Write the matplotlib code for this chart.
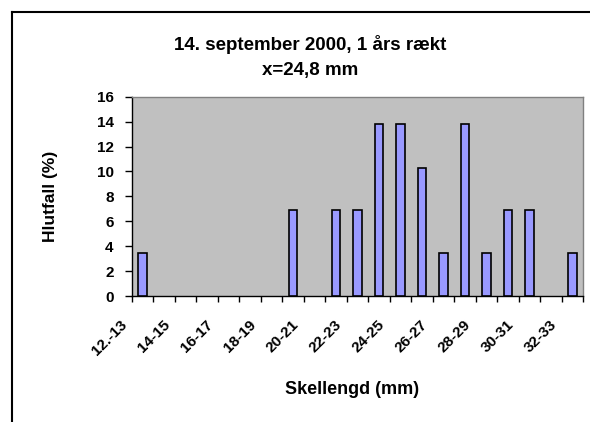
import matplotlib
matplotlib.use("Agg")
import matplotlib.pyplot as plt
from matplotlib.transforms import ScaledTranslation
from matplotlib.lines import Line2D
import numpy as np

# ---- data ----
categories = ["12.-13", "13-14", "14-15", "15-16", "16-17", "17-18", "18-19",
              "19-20", "20-21", "21-22", "22-23", "23-24", "24-25", "25-26",
              "26-27", "27-28", "28-29", "29-30", "30-31", "31-32", "32-33"]
values = [3.45, 0, 0, 0, 0, 0, 0,
          6.9, 0, 6.9, 6.9, 13.8, 13.8, 10.3,
          3.45, 13.8, 3.45, 6.9, 6.9, 0, 3.45]
y_ticks = [0, 2, 4, 6, 8, 10, 12, 14, 16]
title_line1 = "14. september 2000, 1 års rækt"
title_line2 = "x=24,8 mm"
x_label = "Skellengd (mm)"
y_label = "Hlutfall (%)"

plt.rcParams['font.family'] = ['Liberation Sans', 'DejaVu Sans']
plt.rcParams['font.weight'] = 'bold'

W, H, DPI = 590, 422, 100
fig = plt.figure(figsize=(W / DPI, H / DPI), dpi=DPI)
fig.patch.set_facecolor('white')

def fx(px):
    return px / W

def fy(py):
    return 1 - py / H

# chart border (only left and top visible)
fig.add_artist(Line2D([fx(12), fx(12)], [fy(12), 0], color='black', lw=1.5,
                      transform=fig.transFigure))
fig.add_artist(Line2D([fx(12), 1], [fy(12), fy(12)], color='black', lw=1.5,
                      transform=fig.transFigure))

left, right, top, bottom = 131.7, 583.3, 96.7, 296
ax = fig.add_axes([fx(left), fy(bottom), fx(right) - fx(left), fy(top) - fy(bottom)])
ax.set_facecolor('#C0C0C0')

x = np.arange(len(categories))
edge_widths = [1.2 if v > 0 else 0 for v in values]
ax.bar(x, values, width=0.4, color='#9999FF', edgecolor='black',
       linewidth=edge_widths, zorder=3)

ax.set_xlim(-0.5, len(categories) - 0.5)
ax.set_ylim(0, 16)
ax.set_yticks(y_ticks)
ax.set_yticklabels([str(v) for v in y_ticks], fontsize=11, fontweight='bold')
ax.set_xticks(np.arange(len(categories) + 1) - 0.5)
ax.set_xticklabels([])

for s in ['top', 'right']:
    ax.spines[s].set_color('#808080')
    ax.spines[s].set_linewidth(1.0)
for s in ['left', 'bottom']:
    ax.spines[s].set_color('black')
    ax.spines[s].set_linewidth(1.0)

ax.tick_params(axis='y', direction='out', length=5, width=1, pad=8, colors='black')
ax.tick_params(axis='x', direction='out', length=4, width=1, colors='black')

offset = ScaledTranslation(-18 / DPI, -27 / DPI, fig.dpi_scale_trans)
for k in range(0, len(categories), 2):
    ax.text(x[k], 0, categories[k], transform=ax.get_xaxis_transform() + offset,
            rotation=45, rotation_mode='anchor', ha='right', va='center',
            fontsize=11, fontweight='bold')

fig.text(fx(310.5), fy(44.5), title_line1, ha='center', va='center',
         fontsize=13.5, fontweight='bold')
fig.text(fx(310.5), fy(71), title_line2, ha='center', va='center',
         fontsize=13.5, fontweight='bold')
fig.text(fx(352), fy(389), x_label, ha='center', va='center',
         fontsize=13, fontweight='bold')
fig.text(fx(50), fy(196), y_label, ha='center', va='center', rotation=90,
         fontsize=12.5, fontweight='bold')

fig.savefig('out.png', dpi=DPI)
